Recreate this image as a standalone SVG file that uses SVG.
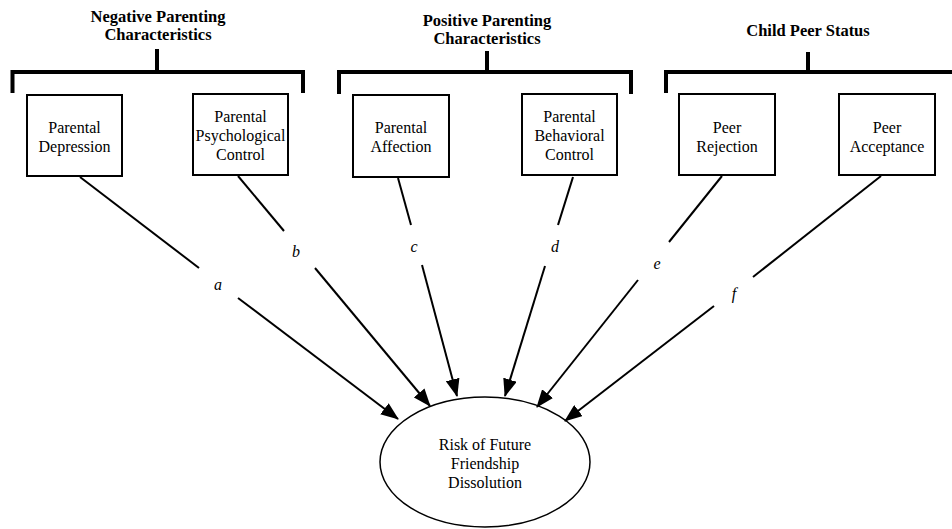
<svg xmlns="http://www.w3.org/2000/svg" width="952" height="529" viewBox="0 0 952 529">
<defs>
<marker id="ah" markerWidth="18" markerHeight="14" refX="17" refY="7" orient="auto" markerUnits="userSpaceOnUse">
<path d="M0,0 L18,7 L0,14 Z" fill="#000"/>
</marker>
<style>
text{font-family:'Liberation Serif','DejaVu Serif',serif;fill:#000;text-anchor:middle}
.t{font-size:16px}
.h{font-size:16.5px;font-weight:bold}
.l{font-size:16px;font-style:italic}
.box{fill:#fff;stroke:#000;stroke-width:2}
.br{fill:none;stroke:#000;stroke-width:4}
.c{stroke:#000;stroke-width:2;fill:none}
</style>
</defs>
<rect width="952" height="529" fill="#fff"/>

<g id="group-negative">
<text class="h" x="158" y="22">Negative Parenting</text>
<text class="h" x="158" y="40">Characteristics</text>
<path class="br" d="M157,49 V72 M12.5,93 V72 H303 V93"/>
</g>
<g id="group-positive">
<text class="h" x="487" y="26">Positive Parenting</text>
<text class="h" x="487" y="44">Characteristics</text>
<path class="br" d="M487,51 V72 M339,94 V72 H631 V94"/>
</g>
<g id="group-peer">
<text class="h" x="808" y="36">Child Peer Status</text>
<path class="br" d="M808,52 V72 M666,93 V72 H952"/>
</g>

<g id="n-depression">
<rect class="box" x="27" y="95" width="95" height="81"/>
<text class="t" x="74.5" y="133">Parental</text>
<text class="t" x="74.5" y="152">Depression</text>
</g>
<g id="n-psych">
<rect class="box" x="193" y="94" width="95" height="81"/>
<text class="t" x="240.5" y="122">Parental</text>
<text class="t" x="240.5" y="141">Psychological</text>
<text class="t" x="240.5" y="160">Control</text>
</g>
<g id="n-affection">
<rect class="box" x="353" y="95" width="96" height="82"/>
<text class="t" x="401" y="133">Parental</text>
<text class="t" x="401" y="152">Affection</text>
</g>
<g id="n-behav">
<rect class="box" x="522" y="94" width="95" height="81"/>
<text class="t" x="569.5" y="122">Parental</text>
<text class="t" x="569.5" y="141">Behavioral</text>
<text class="t" x="569.5" y="160">Control</text>
</g>
<g id="n-rejection">
<rect class="box" x="679" y="94" width="96" height="81"/>
<text class="t" x="727" y="133">Peer</text>
<text class="t" x="727" y="152">Rejection</text>
</g>
<g id="n-acceptance">
<rect class="box" x="839" y="94" width="96" height="81"/>
<text class="t" x="887" y="133">Peer</text>
<text class="t" x="887" y="152">Acceptance</text>
</g>

<g id="n-risk">
<ellipse cx="485" cy="462" rx="105" ry="65" fill="#fff" stroke="#000" stroke-width="1.5"/>
<text class="t" x="485" y="450">Risk of Future</text>
<text class="t" x="485" y="469">Friendship</text>
<text class="t" x="485" y="488">Dissolution</text>
</g>

<g id="connectors">
<line class="c" x1="80" y1="177" x2="199" y2="268"/>
<line class="c" x1="238" y1="298" x2="398" y2="419" marker-end="url(#ah)"/>
<text class="l" x="218" y="290">a</text>

<line class="c" x1="238" y1="176" x2="284" y2="231"/>
<line class="c" x1="315" y1="268" x2="430" y2="406" marker-end="url(#ah)"/>
<text class="l" x="296" y="257">b</text>

<line class="c" x1="398" y1="178" x2="411" y2="225"/>
<line class="c" x1="422" y1="265" x2="457" y2="396" marker-end="url(#ah)"/>
<text class="l" x="414" y="252">c</text>

<line class="c" x1="573" y1="177" x2="558" y2="225"/>
<line class="c" x1="545" y1="266" x2="505" y2="396" marker-end="url(#ah)"/>
<text class="l" x="555" y="252">d</text>

<line class="c" x1="722" y1="176" x2="669" y2="242"/>
<line class="c" x1="638" y1="280" x2="537" y2="407" marker-end="url(#ah)"/>
<text class="l" x="657" y="269">e</text>

<line class="c" x1="881" y1="176" x2="753" y2="277"/>
<line class="c" x1="714" y1="306" x2="565" y2="421" marker-end="url(#ah)"/>
<text class="l" x="734" y="299">f</text>
</g>
</svg>
